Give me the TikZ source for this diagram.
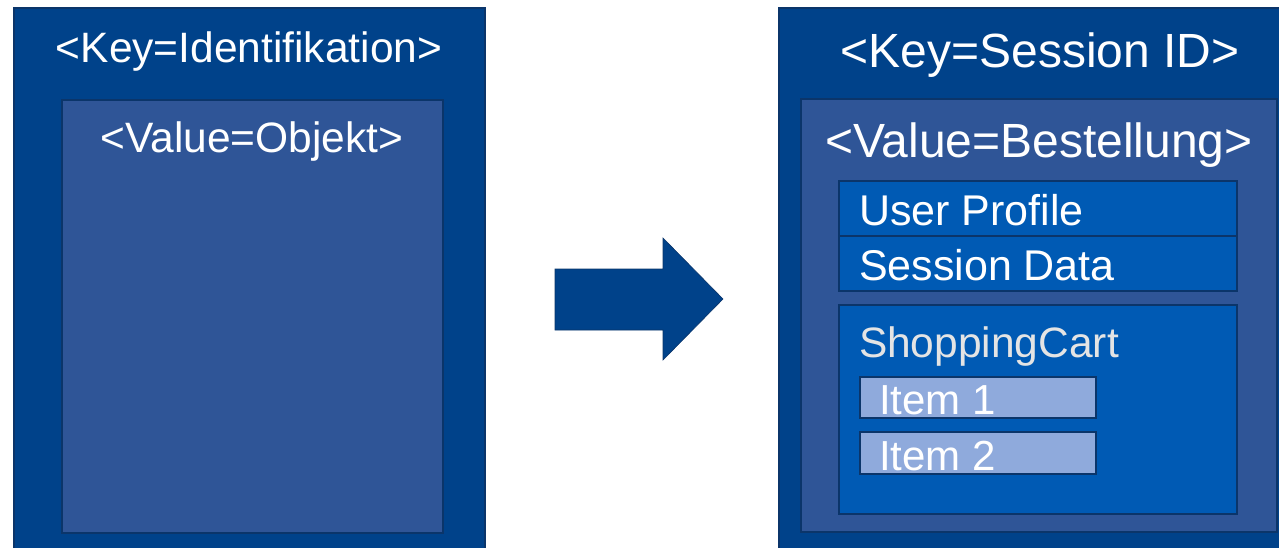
\documentclass[tikz,border=0pt]{standalone}
\usepackage{fontspec}
\setmainfont{Liberation Sans}
\begin{document}
\begin{tikzpicture}[x=1pt,y=-1pt,
  every node/.style={inner sep=0pt, outer sep=0pt},
  box/.style={draw=edgeblue, line width=2pt, anchor=north west},
  outerbox/.style={box, fill=keyblue},
  valuebox/.style={box, fill=valueblue},
  partbox/.style={box, fill=partblue},
  itembox/.style={box, fill=itemblue},
  lbl/.style={anchor=base, text=white},
  lbll/.style={anchor=base west, text=white},
]
\definecolor{keyblue}{HTML}{00428A}
\definecolor{valueblue}{HTML}{2F5597}
\definecolor{partblue}{HTML}{005AB4}
\definecolor{itemblue}{HTML}{8FAADC}
\definecolor{edgeblue}{HTML}{0B356A}
\definecolor{cartgray}{HTML}{E4E4E4}

\useasboundingbox (0,0) rectangle (1279,547);
\clip (0,0) rectangle (1279,547);

% left: generic key/value pair
\node[outerbox, minimum width=471pt, minimum height=640pt] (lkey) at (14,8) {};
\node[valuebox, minimum width=381pt, minimum height=433pt] (lval) at (62,100) {};
\node[lbl, font=\fontsize{42.5}{48}\selectfont] (lkeytxt) at (249,62) {<Key=Identifikation>};
\node[lbl, font=\fontsize{42.5}{48}\selectfont] (lvaltxt) at (252,152) {<Value=Objekt>};

% arrow
\fill[keyblue, draw=edgeblue, line width=0.6pt]
  (555,269) -- (663,269) -- (663,238) -- (723,299) -- (663,360) -- (663,330) -- (555,330) -- cycle;

% right: session key/value pair
\node[outerbox, minimum width=560pt, minimum height=640pt] (rkey) at (779,8) {};
\node[valuebox, minimum width=476pt, minimum height=433pt] (rval) at (801,99) {};
\node[lbl, font=\fontsize{48}{54}\selectfont] (rkeytxt) at (1040,67) {<Key=Session ID>};
\node[lbl, font=\fontsize{48}{54}\selectfont] (rvaltxt) at (1039,157) {<Value=Bestellung>};

\node[partbox, minimum width=398pt, minimum height=55pt] (profile) at (839,181) {};
\node[partbox, minimum width=398pt, minimum height=55pt] (sdata) at (839,236) {};
\node[partbox, minimum width=398pt, minimum height=209pt] (cart) at (839,305) {};
\node[itembox, minimum width=236pt, minimum height=41pt] (item1) at (860,377) {};
\node[itembox, minimum width=236pt, minimum height=42pt] (item2) at (860,432) {};

\node[lbll, font=\fontsize{43}{48}\selectfont] (profiletxt) at (859,225) {User Profile};
\node[lbll, font=\fontsize{43}{48}\selectfont] (sdatatxt) at (859,280) {Session Data};
\node[lbll, font=\fontsize{42.5}{48}\selectfont, text=cartgray] (carttxt) at (859,357) {ShoppingCart};
\node[lbll, font=\fontsize{42}{48}\selectfont] (item1txt) at (879,414) {Item 1};
\node[lbll, font=\fontsize{42}{48}\selectfont] (item2txt) at (879,470) {Item 2};
\end{tikzpicture}
\end{document}
